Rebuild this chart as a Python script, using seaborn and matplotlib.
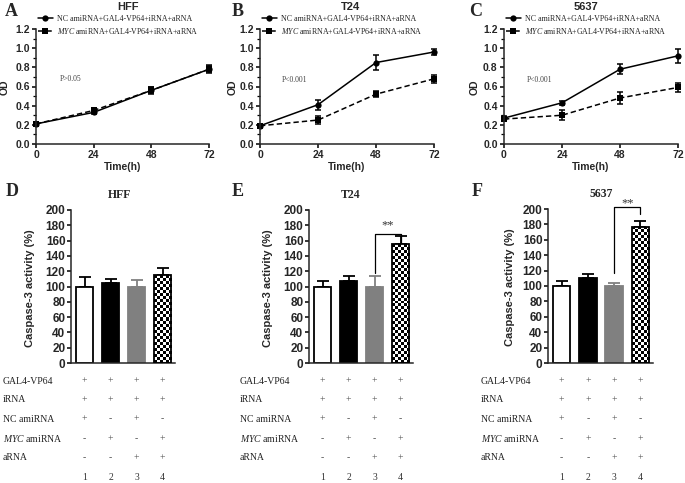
import numpy as np
import pandas as pd
import matplotlib
matplotlib.use("Agg")
import matplotlib.pyplot as plt
import matplotlib.transforms as mtransforms
import seaborn as sns

# ---------------- data ----------------
hours = [0, 24, 48, 72]
groups = ["NC", "MYC"]
legend_labels = ["NC amiRNA+GAL4-VP64+iRNA+aRNA",
                 r"$\mathit{MYC}$ amiRNA+GAL4-VP64+iRNA+aRNA"]

line_titles = ["HFF", "T24", "5637"]
line_letters = ["A", "B", "C"]
p_texts = ["P>0.05", "P<0.001", "P<0.001"]

hff_nc = [0.21, 0.33, 0.56, 0.78]
hff_nc_err = [0.02, 0.02, 0.03, 0.03]
hff_myc = [0.21, 0.35, 0.56, 0.78]
hff_myc_err = [0.02, 0.03, 0.04, 0.04]

t24_nc = [0.19, 0.41, 0.85, 0.96]
t24_nc_err = [0.02, 0.05, 0.08, 0.03]
t24_myc = [0.19, 0.25, 0.52, 0.68]
t24_myc_err = [0.02, 0.04, 0.03, 0.04]

c5637_nc = [0.27, 0.43, 0.78, 0.92]
c5637_nc_err = [0.02, 0.02, 0.05, 0.07]
c5637_myc = [0.26, 0.30, 0.48, 0.59]
c5637_myc_err = [0.02, 0.05, 0.06, 0.05]

bar_titles = ["HFF", "T24", "5637"]
bar_letters = ["D", "E", "F"]
bar_groups = ["1", "2", "3", "4"]

hff_casp = [100, 104, 100, 115]
hff_casp_err = [13, 6, 8, 9]
t24_casp = [100, 107, 100, 155]
t24_casp_err = [7, 7, 14, 11]
c5637_casp = [100, 111, 100, 177]
c5637_casp_err = [7, 5, 4, 8]

row_labels = ["GAL4-VP64", "iRNA", "NC amiRNA", r"$\mathit{MYC}$ amiRNA", "aRNA"]
row_gal4 = ["+", "+", "+", "+"]
row_irna = ["+", "+", "+", "+"]
row_nc = ["+", "-", "+", "-"]
row_myc = ["-", "+", "-", "+"]
row_arna = ["-", "-", "+", "+"]

# ---------------- style ----------------
sns.set_theme(style="ticks")
plt.rcParams["font.family"] = ["Liberation Sans", "DejaVu Sans"]
plt.rcParams["mathtext.fontset"] = "custom"
plt.rcParams["mathtext.rm"] = "Liberation Serif"
plt.rcParams["mathtext.it"] = "Liberation Serif:italic"
plt.rcParams["axes.linewidth"] = 1.1
SERIF = ["Liberation Serif", "DejaVu Serif"]

W, H = 685, 483
fig = plt.figure(figsize=(W / 100, H / 100), dpi=100)


def ax_px(left, top, width, height):
    return fig.add_axes([left / W, 1 - (top + height) / H, width / W, height / H])


def bold_ticks(ax, size):
    for lbl in ax.get_xticklabels() + ax.get_yticklabels():
        lbl.set_fontweight("bold")
        lbl.set_fontsize(size)


# ---------------- top row: line plots ----------------
line_data = [
    (hff_nc, hff_nc_err, hff_myc, hff_myc_err),
    (t24_nc, t24_nc_err, t24_myc, t24_myc_err),
    (c5637_nc, c5637_nc_err, c5637_myc, c5637_myc_err),
]
line_axes_px = [(36, 29, 173, 115), (260, 29, 174, 115), (504, 29, 174, 115)]
od_label_x = [-0.15, -0.13, -0.14]
title_x = [0.53, 0.52, 0.47]
letter_px = [(5, 12), (232, 12), (469, 12)]
p_pos = [(10, 0.68), (9, 0.67), (9.5, 0.67)]

for i in range(3):
    nc, nc_e, myc, myc_e = line_data[i]
    ax = ax_px(*line_axes_px[i])
    df = pd.DataFrame({
        "Time": hours * 2,
        "OD": nc + myc,
        "group": [groups[0]] * 4 + [groups[1]] * 4,
    })
    sns.lineplot(data=df, x="Time", y="OD", hue="group", style="group",
                 palette={"NC": "black", "MYC": "black"},
                 markers={"NC": "o", "MYC": "s"},
                 dashes={"NC": "", "MYC": (3.5, 2)},
                 markersize=4.5, linewidth=1.1, markeredgewidth=0,
                 legend=False, ax=ax, clip_on=False)
    for vals, errs in ((nc, nc_e), (myc, myc_e)):
        ax.errorbar(hours, vals, yerr=errs, fmt="none", ecolor="black",
                    elinewidth=1.1, capsize=2.5, capthick=1.1, clip_on=False)
    handles = ax.lines[:2]
    leg = ax.legend(handles, legend_labels, loc="upper left",
                    bbox_to_anchor=(0.01, 1.125), bbox_transform=ax.transAxes,
                    frameon=False, prop={"family": SERIF, "size": 5.7},
                    handlelength=1.9, handletextpad=0.5, labelspacing=0.45,
                    borderpad=0, borderaxespad=0)
    for t in leg.get_texts():
        t.set_color("#222222")
    ax.set_xlim(0, 72)
    ax.set_ylim(0, 1.2)
    ax.set_xticks(hours)
    ax.set_yticks(np.arange(0, 1.21, 0.2))
    ax.set_yticklabels([f"{v:.1f}" for v in np.arange(0, 1.21, 0.2)])
    ax.set_yticks(np.arange(0.1, 1.2, 0.2), minor=True)
    ax.tick_params(axis="both", which="major", direction="out", length=3,
                   width=1.1, pad=1.5, color="black")
    ax.tick_params(axis="y", which="minor", direction="out", length=2,
                   width=0.9, color="black")
    bold_ticks(ax, 7.5)
    sns.despine(ax=ax)
    ax.set_xlabel("Time(h)", fontsize=7.5, fontweight="bold", labelpad=1)
    ax.set_ylabel("OD", fontsize=7.5, fontweight="bold")
    ax.yaxis.set_label_coords(od_label_x[i], 0.49)
    ax.text(title_x[i], 1.19, line_titles[i], transform=ax.transAxes,
            ha="center", va="center", fontsize=8, fontweight="bold")
    ax.text(p_pos[i][0], p_pos[i][1], p_texts[i], fontsize=5.5,
            family=SERIF, color="#444444", va="center", ha="left")
    fig.text(letter_px[i][0] / W, 1 - letter_px[i][1] / H, line_letters[i],
             family=SERIF, fontsize=13, fontweight="bold", va="center")

# ---------------- bottom row: bar plots ----------------
bar_data = [
    (hff_casp, hff_casp_err),
    (t24_casp, t24_casp_err),
    (c5637_casp, c5637_casp_err),
]
bar_axes_px = [(71, 210, 104, 153), (309, 210, 104, 153), (548, 209, 105, 154)]
bar_title_x = [0.47, 0.40, 0.51]
bar_letter_px = [(6, 192), (232, 192), (472, 192)]
row_label_x = [3, 240, 481]
row_y_px = [381, 400, 419, 439, 458, 477]
ylab_x = [-0.35, -0.35, -0.315]
fill_colors = ["white", "black", "#808080", "white"]
edge_colors = ["black", "black", "#808080", "black"]
brackets = [None, (117, 168, 157, 176), (117, 202, 193, 204)]

for i in range(3):
    vals, errs = bar_data[i]
    ax = ax_px(*bar_axes_px[i])
    df = pd.DataFrame({"group": bar_groups, "casp": vals})
    sns.barplot(data=df, x="group", y="casp", hue="group",
                palette=dict(zip(bar_groups, fill_colors)), legend=False,
                width=0.67, errorbar=None, ax=ax, zorder=2)
    patches = list(ax.patches)
    for p, ec in zip(patches, edge_colors):
        p.set_edgecolor(ec)
        p.set_linewidth(1.3)
    xs = [p.get_x() + p.get_width() / 2 for p in patches]
    for x, v, e, ec in zip(xs, vals, errs, edge_colors):
        ax.errorbar([x], [v], yerr=[[0], [e]], fmt="none", ecolor=ec,
                    elinewidth=1.3, capsize=4.5, capthick=1.3, zorder=1)
    ax.set_xlim(-0.52, 3.48)
    ax.set_ylim(0, 200)
    # checkerboard texture for bar 4
    p4 = patches[3]
    x0, w, h = p4.get_x(), p4.get_width(), p4.get_height()
    pix = ax.transData.transform([(x0, 0), (x0 + w, h)])
    ncol = max(2, int(round(abs(pix[1][0] - pix[0][0]) / 3.0)))
    nrow = max(2, int(round(abs(pix[1][1] - pix[0][1]) / 3.0)))
    checker = (np.add.outer(np.arange(nrow), np.arange(ncol)) % 2).astype(float)
    im = ax.imshow(checker, cmap="gray", extent=[x0, x0 + w, 0, h],
                   aspect="auto", interpolation="nearest", zorder=2.5,
                   vmin=0, vmax=1)
    im.set_clip_path(p4)
    p4.set_facecolor("none")
    p4.set_zorder(3)
    ax.set_xlim(-0.52, 3.48)
    ax.set_ylim(0, 200)
    ax.set_yticks(np.arange(0, 201, 20))
    ax.set_xticks([])
    ax.set_xlabel("")
    ax.tick_params(axis="y", direction="out", length=3, width=1.1, pad=1,
                   color="black")
    bold_ticks(ax, 8.5)
    sns.despine(ax=ax)
    ax.set_ylabel("Caspase-3 activity (%)", fontsize=8, fontweight="bold")
    ax.yaxis.set_label_coords(ylab_x[i], 0.49)
    ax.text(bar_title_x[i], 1.098, bar_titles[i], transform=ax.transAxes,
            ha="center", va="center", fontsize=8.5, fontweight="bold",
            family=SERIF)
    fig.text(bar_letter_px[i][0] / W, 1 - bar_letter_px[i][1] / H,
             bar_letters[i], family=SERIF, fontsize=13, fontweight="bold",
             va="center")
    if brackets[i] is not None:
        lb, top, rb, ty = brackets[i]
        ax.plot([xs[2], xs[2], xs[3], xs[3]], [lb, top, top, rb],
                color="black", lw=0.9, clip_on=False)
        ax.text((xs[2] + xs[3]) / 2, ty, "**", ha="center", va="baseline",
                fontsize=9, family=SERIF, color="#333333", clip_on=False)
    # table below
    blend = mtransforms.blended_transform_factory(ax.transData, fig.transFigure)
    rows = [row_gal4, row_irna, row_nc, row_myc, row_arna]
    for r, (lab, syms) in enumerate(zip(row_labels, rows)):
        yf = 1 - row_y_px[r] / H
        fig.text(row_label_x[i] / W, yf, lab, family=SERIF, fontsize=7,
                 va="center", ha="left", color="#222222")
        for x, s in zip(xs, syms):
            ax.text(x, yf, s, transform=blend, family=SERIF, fontsize=7,
                    ha="center", va="center", color="#555555",
                    clip_on=False)
    yf = 1 - row_y_px[5] / H
    for x, lab in zip(xs, bar_groups):
        ax.text(x, yf, lab, transform=blend, family=SERIF, fontsize=7,
                ha="center", va="center", color="#333333", clip_on=False)

fig.savefig("out.png", dpi=100)
